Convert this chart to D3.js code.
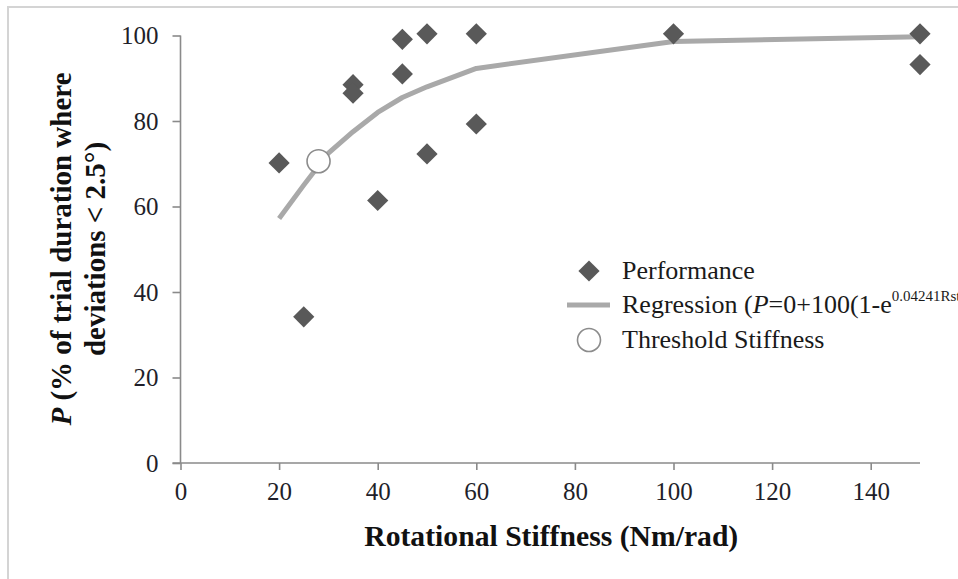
<!DOCTYPE html>
<html>
<head>
<meta charset="utf-8">
<script src="https://cdn.jsdelivr.net/npm/d3@7"></script>
<style>
  body { margin: 0; background: #fff; }
  svg, svg text { font-family: "Liberation Serif", "Times New Roman", serif; }
</style>
</head>
<body>
<div id="chart"></div>
<script>
// performance points (stiffness Nm/rad, % of trial)
var stiffness   = [20, 25, 35, 35, 40, 45, 45, 50, 50, 60, 60, 100, 150, 150];
var performance = [70.2, 34.2, 88.5, 86.5, 61.4, 99.1, 91.0, 100.4, 72.3, 100.4, 79.3, 100.4, 100.4, 93.2];

// regression line as drawn
var regX = [20, 25, 30, 35, 40, 45, 50, 60, 100, 150];
var regY = [57.2, 65.0, 72.5, 77.5, 82.0, 85.5, 88.0, 92.3, 98.6, 99.7];

// threshold stiffness
var thresholdX = [28];
var thresholdY = [70.6];

var xTicks = [0, 20, 40, 60, 80, 100, 120, 140];
var yTicks = [0, 20, 40, 60, 80, 100];

var width = 958, height = 579;
var serif = "'Liberation Serif', 'Times New Roman', serif";

var svg = d3.select("#chart").append("svg")
    .attr("width", width)
    .attr("height", height);

// outer frame (cut off by the picture edge)
svg.append("rect")
    .attr("x", 8).attr("y", 7)
    .attr("width", 1000).attr("height", 700)
    .attr("fill", "none")
    .attr("stroke", "#d4d4d4")
    .attr("stroke-width", 2);

var x = d3.scaleLinear().domain([0, 150]).range([180.5, 920]);
var y = d3.scaleLinear().domain([0, 100]).range([463, 35.5]);

var axisColor = "#8a8a8a";

// x axis
var xAxis = svg.append("g")
    .attr("transform", "translate(0," + y(0) + ")")
    .call(d3.axisBottom(x).tickValues(xTicks).tickSize(7).tickPadding(9).tickSizeOuter(0));
xAxis.select(".domain").attr("d", "M" + (x(0) - 8) + ",0H" + x(150));

// y axis
var yAxis = svg.append("g")
    .attr("transform", "translate(" + x(0) + ",0)")
    .call(d3.axisLeft(y).tickValues(yTicks).tickSize(8).tickPadding(14).tickSizeOuter(0));
yAxis.select(".domain").attr("d", "M0," + y(0) + "V" + y(100));

svg.selectAll(".tick, g").attr("font-family", null);
svg.selectAll(".domain, .tick line")
    .attr("stroke", axisColor)
    .attr("stroke-width", 1.6);
svg.selectAll(".tick text")
    .style("font-family", serif)
    .attr("font-size", 25)
    .attr("fill", "#1f1f2a");
xAxis.selectAll(".tick text").attr("dy", "0.85em");

// axis titles
svg.append("text")
    .attr("x", x(75) + 1)
    .attr("y", 546)
    .attr("text-anchor", "middle")
    .attr("font-size", 29)
    .attr("font-weight", "bold")
    .attr("fill", "#111")
    .attr("textLength", 374)
    .attr("lengthAdjust", "spacingAndGlyphs")
    .text("Rotational Stiffness (Nm/rad)");

var yTitle = svg.append("text")
    .attr("transform", "translate(71,249) rotate(-90)")
    .attr("text-anchor", "middle")
    .attr("font-size", 29)
    .attr("font-weight", "bold")
    .attr("fill", "#111");
var yLine1 = yTitle.append("tspan").attr("x", 0).attr("dy", 0);
yLine1.append("tspan").attr("font-style", "italic").text("P");
yLine1.append("tspan").text(" (% of trial duration where");
yTitle.append("tspan").attr("x", 0).attr("dy", 34).text("deviations < 2.5\u00b0)");

// regression line
var line = d3.line()
    .x(function(d) { return x(d[0]); })
    .y(function(d) { return y(d[1]); });

svg.append("path")
    .datum(regX.map(function(d, i) { return [d, regY[i]]; }))
    .attr("d", line)
    .attr("fill", "none")
    .attr("stroke", "#a9a9a9")
    .attr("stroke-width", 5)
    .attr("stroke-linejoin", "round");

// performance diamonds
var diamond = d3.symbol().type(d3.symbolSquare).size(225);
svg.append("g").selectAll("path")
    .data(stiffness.map(function(d, i) { return [d, performance[i]]; }))
    .join("path")
    .attr("d", diamond)
    .attr("transform", function(d) {
        return "translate(" + x(d[0]) + "," + y(d[1]) + ") rotate(45)";
    })
    .attr("fill", "#595959");

// threshold circle
svg.append("g").selectAll("circle")
    .data(thresholdX.map(function(d, i) { return [d, thresholdY[i]]; }))
    .join("circle")
    .attr("cx", function(d) { return x(d[0]); })
    .attr("cy", function(d) { return y(d[1]); })
    .attr("r", 11.5)
    .attr("fill", "#fff")
    .attr("stroke", "#8c8c8c")
    .attr("stroke-width", 1.6);

// legend
var legend = svg.append("g").attr("transform", "translate(589,271)");
var legendFont = 26;

legend.append("path")
    .attr("d", diamond)
    .attr("transform", "rotate(45)")
    .attr("fill", "#595959");
legend.append("text")
    .attr("x", 33).attr("y", 8)
    .attr("font-size", legendFont).attr("fill", "#1a1a1a")
    .text("Performance");

legend.append("line")
    .attr("x1", -22).attr("x2", 21)
    .attr("y1", 34).attr("y2", 34)
    .attr("stroke", "#a9a9a9").attr("stroke-width", 5);
var regText = legend.append("text")
    .attr("x", 33).attr("y", 42)
    .attr("font-size", legendFont).attr("fill", "#1a1a1a");
regText.append("tspan").text("Regression (");
regText.append("tspan").attr("font-style", "italic").text("P");
regText.append("tspan").text("=0+100(1-e");
regText.append("tspan").attr("font-size", 15).attr("dy", -12).text("0.04241Rst");

legend.append("circle")
    .attr("cx", 0).attr("cy", 69)
    .attr("r", 11.5)
    .attr("fill", "#fff")
    .attr("stroke", "#8c8c8c")
    .attr("stroke-width", 1.6);
legend.append("text")
    .attr("x", 33).attr("y", 77)
    .attr("font-size", legendFont).attr("fill", "#1a1a1a")
    .text("Threshold Stiffness");
</script>
</body>
</html>
